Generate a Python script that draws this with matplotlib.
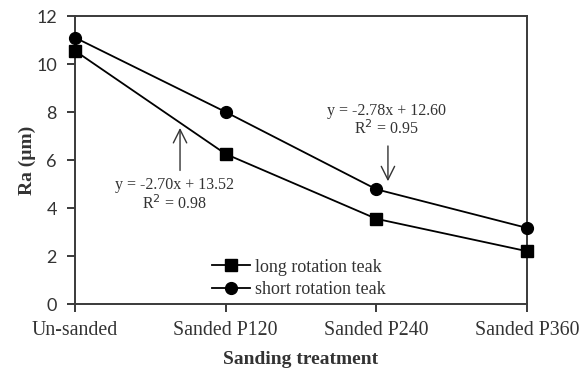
import matplotlib
matplotlib.use("Agg")
import matplotlib.pyplot as plt

categories = ["Un-sanded", "Sanded P120", "Sanded P240", "Sanded P360"]
longRotation = [10.55, 6.25, 3.55, 2.2]
shortRotation = [11.1, 8.0, 4.78, 3.17]
yTicks = [0, 2, 4, 6, 8, 10, 12]

textColor = "#333333"
frameColor = "#3a3a3a"
serif = "Liberation Serif"

fig = plt.figure(figsize=(5.82, 3.68), dpi=100)
ax = fig.add_axes([0.1289, 0.1739, 0.7766, 0.7826])

xs = list(range(len(categories)))
ax.plot(xs, longRotation, color="black", marker="s", markersize=8.5, linewidth=1.3,
        label="long rotation teak", clip_on=False, zorder=3)
ax.plot(xs, shortRotation, color="black", marker="o", markersize=8.5, linewidth=1.3,
        label="short rotation teak", clip_on=False, zorder=3)

ax.set_xlim(0, len(categories) - 1)
ax.set_ylim(0, 12)
ax.set_yticks(yTicks)
ax.set_xticks(xs)
ax.set_xticklabels(categories, family=serif, fontsize=14.3, color=textColor)
for lbl in ax.get_yticklabels():
    lbl.set_family("Lato")
    lbl.set_fontsize(13)
    lbl.set_color(textColor)

for side in ["top", "right", "left", "bottom"]:
    ax.spines[side].set_linewidth(1.4)
    ax.spines[side].set_color(frameColor)
ax.tick_params(axis="both", direction="out", length=6, width=1.4, color=frameColor)
ax.tick_params(axis="x", pad=6)
ax.tick_params(axis="y", pad=7)

ax.set_xlabel("Sanding treatment", family=serif, fontsize=14, fontweight="bold",
              color=textColor, labelpad=8)
ax.set_ylabel("Ra (\u00b5m)", family=serif, fontsize=14, fontweight="bold",
              color=textColor, labelpad=0)

# regression annotations
ax.annotate("", xy=(0.697, 7.45), xytext=(0.697, 5.45),
            arrowprops=dict(arrowstyle="->", color="#333333", lw=1, mutation_scale=24))
ax.text(0.657, 4.95, "y = -2.70x + 13.52", family=serif, fontsize=11.5, color=textColor,
        ha="center", va="center")
ax.text(0.657, 4.2, "R$^2$ = 0.98", family=serif, fontsize=11.5, color=textColor,
        ha="center", va="center")

ax.annotate("", xy=(2.077, 5.0), xytext=(2.077, 6.7),
            arrowprops=dict(arrowstyle="->", color="#333333", lw=1, mutation_scale=24))
ax.text(2.07, 8.05, "y = -2.78x + 12.60", family=serif, fontsize=11.5, color=textColor,
        ha="center", va="center")
ax.text(2.07, 7.3, "R$^2$ = 0.95", family=serif, fontsize=11.5, color=textColor,
        ha="center", va="center")

leg = ax.legend(loc="upper left", bbox_to_anchor=(0.303, 0.158), frameon=False,
                prop={"family": serif, "size": 13}, handlelength=2.1,
                handletextpad=0.3, labelspacing=0.3, borderaxespad=0, borderpad=0)
for t in leg.get_texts():
    t.set_color(textColor)

fig.savefig("out.png", dpi=100)
